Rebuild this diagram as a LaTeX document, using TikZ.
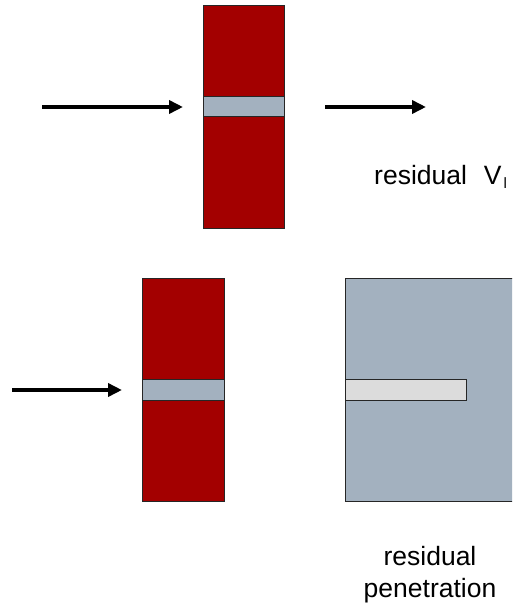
\documentclass[tikz,border=0pt]{standalone}
\usepackage{fontspec}
\setmainfont{Liberation Sans}
\usetikzlibrary{arrows.meta}
\definecolor{targetred}{HTML}{A30000}
\definecolor{bandgray}{HTML}{A3B1BF}
\definecolor{lightbar}{HTML}{DCDCDC}
\tikzset{
  plate/.style={fill=targetred, draw=black!85, line width=1pt},
  band/.style={fill=bandgray, draw=black!85, line width=1pt},
  bar/.style={fill=lightbar, draw=black!85, line width=1pt},
  block/.style={fill=bandgray, draw=black!85, line width=1pt},
  motion/.style={line width=3.6pt, -{Triangle[length=14pt,width=13pt]}},
  lbl/.style={font=\fontsize{26.5}{31}\selectfont, inner sep=0pt}
}
\begin{document}
\begin{tikzpicture}[x=1pt,y=-1pt]
\useasboundingbox (0,0) rectangle (512,607);
\clip (0,0) rectangle (512,607);
% top scenario
\draw[plate] (203,6) rectangle (284,228);
\draw[band] (203,97) rectangle (284,117);
\coordinate (a1s) at (42,107);
\coordinate (a1e) at (183,107);
\coordinate (a2s) at (325,107);
\coordinate (a2e) at (426,107);
\draw[motion] (a1s) -- (a1e);
\draw[motion] (a2s) -- (a2e);
\node[lbl, anchor=base west] (t1) at (374,184) {residual\hspace{17pt}V\hspace{2pt}\raisebox{-0.35ex}{\fontsize{15}{15}\selectfont l}};
% bottom scenario
\draw[plate] (142,278) rectangle (224,501);
\draw[band] (142,379) rectangle (224,400);
\coordinate (a3s) at (12,390);
\coordinate (a3e) at (122,390);
\draw[motion] (a3s) -- (a3e);
\draw[block] (345,278) rectangle (520,501);
\draw[bar] (345,379) rectangle (466,400);
\node[lbl, anchor=base] (t2) at (430,565) {residual};
\node[lbl, anchor=base] (t3) at (430,597) {penetration};
\end{tikzpicture}
\end{document}
